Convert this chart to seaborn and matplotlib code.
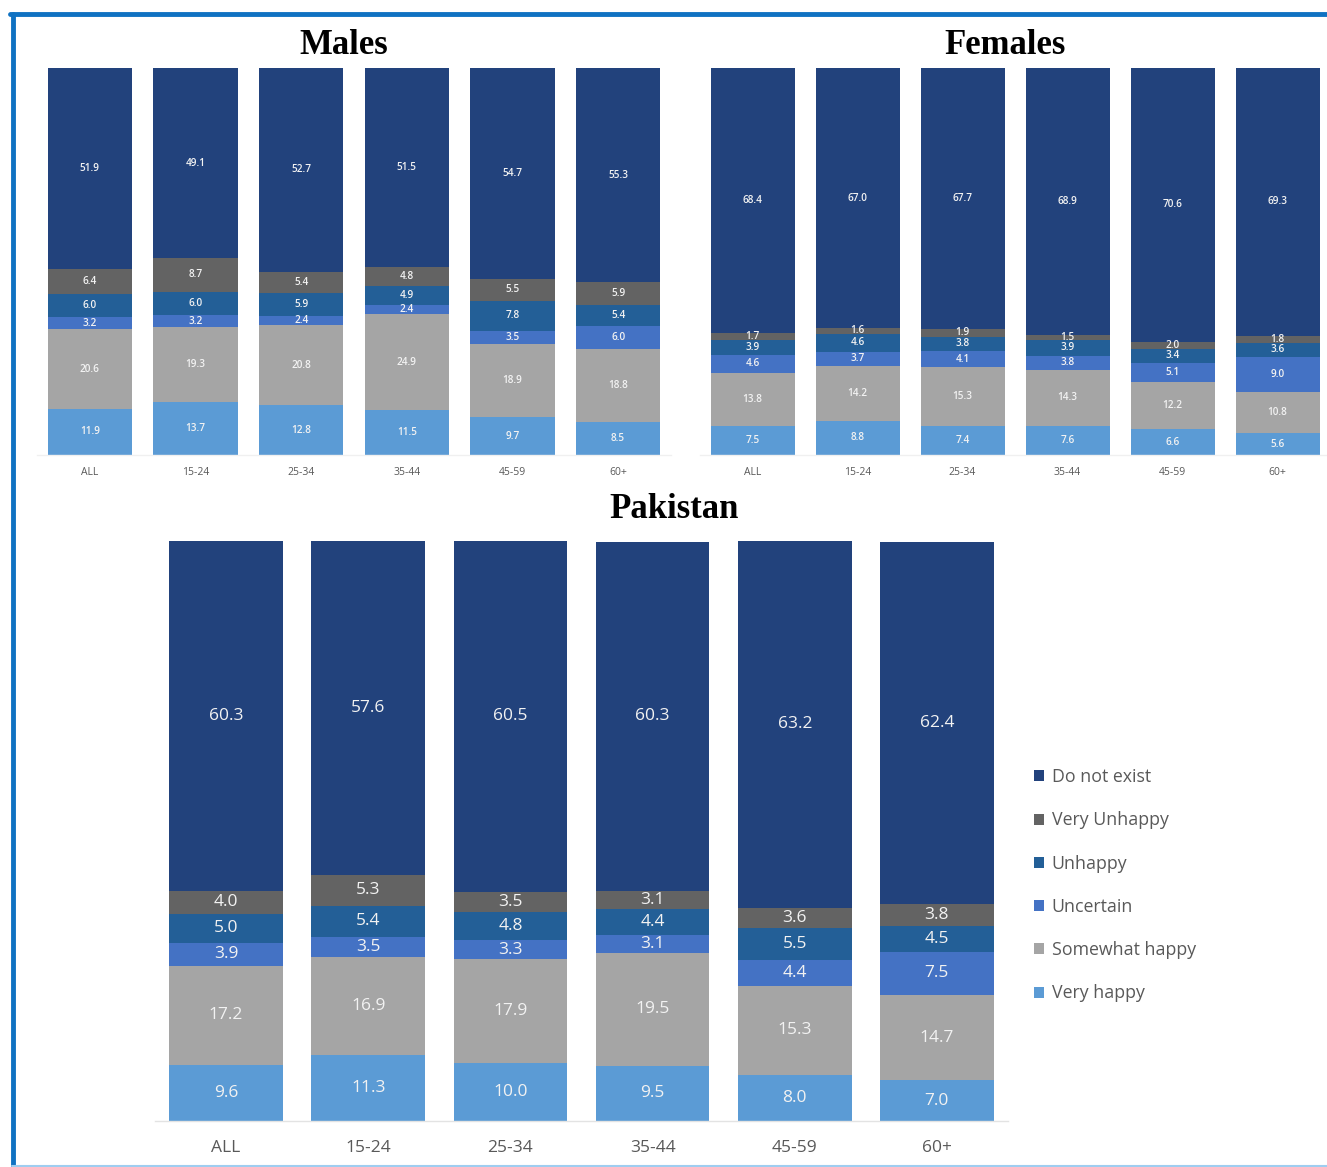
import numpy as np
import pandas as pd
import matplotlib
matplotlib.use("Agg")
import matplotlib.pyplot as plt
from matplotlib.patches import Patch
from matplotlib.lines import Line2D
import seaborn as sns

# ---------------- data ----------------
age_groups = ["ALL", "15-24", "25-34", "35-44", "45-59", "60+"]
categories = ["Do not exist", "Very Unhappy", "Unhappy", "Uncertain",
              "Somewhat happy", "Very happy"]

males_very_happy = [11.9, 13.7, 12.8, 11.5, 9.7, 8.5]
males_somewhat_happy = [20.6, 19.3, 20.8, 24.9, 18.9, 18.8]
males_uncertain = [3.2, 3.2, 2.4, 2.4, 3.5, 6.0]
males_unhappy = [6.0, 6.0, 5.9, 4.9, 7.8, 5.4]
males_very_unhappy = [6.4, 8.7, 5.4, 4.8, 5.5, 5.9]
males_do_not_exist = [51.9, 49.1, 52.7, 51.5, 54.7, 55.3]

females_very_happy = [7.5, 8.8, 7.4, 7.6, 6.6, 5.6]
females_somewhat_happy = [13.8, 14.2, 15.3, 14.3, 12.2, 10.8]
females_uncertain = [4.6, 3.7, 4.1, 3.8, 5.1, 9.0]
females_unhappy = [3.9, 4.6, 3.8, 3.9, 3.4, 3.6]
females_very_unhappy = [1.7, 1.6, 1.9, 1.5, 2.0, 1.8]
females_do_not_exist = [68.4, 67.0, 67.7, 68.9, 70.6, 69.3]

pak_very_happy = [9.6, 11.3, 10.0, 9.5, 8.0, 7.0]
pak_somewhat_happy = [17.2, 16.9, 17.9, 19.5, 15.3, 14.7]
pak_uncertain = [3.9, 3.5, 3.3, 3.1, 4.4, 7.5]
pak_unhappy = [5.0, 5.4, 4.8, 4.4, 5.5, 4.5]
pak_very_unhappy = [4.0, 5.3, 3.5, 3.1, 3.6, 3.8]
pak_do_not_exist = [60.3, 57.6, 60.5, 60.3, 63.2, 62.4]

palette = {
    "Do not exist": "#22427c",
    "Very Unhappy": "#636363",
    "Unhappy": "#235f97",
    "Uncertain": "#4472c4",
    "Somewhat happy": "#a5a5a5",
    "Very happy": "#5b9bd5",
}


def make_frame(vh, sh, unc, unh, vu, dne):
    series = {
        "Very happy": vh, "Somewhat happy": sh, "Uncertain": unc,
        "Unhappy": unh, "Very Unhappy": vu, "Do not exist": dne,
    }
    rows = []
    for cat, vals in series.items():
        for i, v in enumerate(vals):
            rows.append({"pos": i, "age": age_groups[i], "category": cat, "value": v})
    return pd.DataFrame(rows)


males = make_frame(males_very_happy, males_somewhat_happy, males_uncertain,
                   males_unhappy, males_very_unhappy, males_do_not_exist)
females = make_frame(females_very_happy, females_somewhat_happy, females_uncertain,
                     females_unhappy, females_very_unhappy, females_do_not_exist)
pakistan = make_frame(pak_very_happy, pak_somewhat_happy, pak_uncertain,
                      pak_unhappy, pak_very_unhappy, pak_do_not_exist)

sns.set_theme(style="white")
plt.rcParams["font.family"] = ["Open Sans", "DejaVu Sans"]

W, H = 1327, 1167
fig = plt.figure(figsize=(W / 100, H / 100), dpi=100)


def px_axes(left, right, top, bottom):
    return fig.add_axes([left / W, 1 - bottom / H, (right - left) / W, (bottom - top) / H])


def draw_panel(ax, df, label_size, label_weight, tick_size, tick_pad, base_color):
    sns.histplot(data=df, x="pos", weights="value", hue="category",
                 hue_order=categories, multiple="stack", discrete=True,
                 shrink=0.8, palette=palette, alpha=1, linewidth=0,
                 legend=False, ax=ax)
    ax.set_xlim(-0.5, 5.5)
    ax.set_ylim(0, 100)
    ax.set_xticks(range(len(age_groups)))
    ax.set_xticklabels(age_groups, fontsize=tick_size, color="#595959")
    ax.tick_params(axis="x", length=0, pad=tick_pad)
    ax.set_yticks([])
    ax.set_xlabel("")
    ax.set_ylabel("")
    for s in ["top", "left", "right"]:
        ax.spines[s].set_visible(False)
    ax.spines["bottom"].set_color(base_color)
    ax.spines["bottom"].set_linewidth(1)
    ax.patch.set_alpha(0)
    # value labels
    stack_order = categories[::-1]
    for i in range(len(age_groups)):
        base = 0.0
        for cat in stack_order:
            v = df[(df["pos"] == i) & (df["category"] == cat)]["value"].iloc[0]
            ax.text(i, base + v / 2, f"{v:.1f}", ha="center", va="center",
                    fontsize=label_size, fontweight=label_weight, color="#f2f2f2")
            base += v


ax_m = px_axes(37, 671, 68, 455)
draw_panel(ax_m, males, 7.2, "semibold", 7.5, 8.5, "#f0f0f0")
ax_f = px_axes(700, 1330, 68, 455)
draw_panel(ax_f, females, 7.2, "semibold", 7.5, 8.5, "#f0f0f0")
ax_p = px_axes(155, 1008, 541, 1121)
draw_panel(ax_p, pakistan, 12.5, "normal", 12.5, 13.5, "#e3e3e3")

# titles
title_kw = dict(ha="center", va="center", fontsize=25, fontweight="bold",
                family="Liberation Serif", color="black")
fig.text(344 / W, 1 - 45 / H, "Males", **title_kw)
fig.text(1005 / W, 1 - 45 / H, "Females", **title_kw)
fig.text(674 / W, 1 - 510 / H, "Pakistan", **title_kw)

# legend
handles = [Patch(facecolor=palette[c], edgecolor="none", label=c) for c in categories]
leg = fig.legend(handles=handles, loc="upper left",
                 bbox_to_anchor=(1027 / W, 1 - 761 / H), frameon=False,
                 fontsize=12.8, handlelength=0.58, handleheight=0.58,
                 handletextpad=0.4, labelspacing=1.42, borderaxespad=0)
for t in leg.get_texts():
    t.set_color("#595959")

# frame border
fig.add_artist(Line2D([12.5 / W, 12.5 / W], [1 - 14 / H, 0], color="#1072c2",
                      linewidth=3.5, transform=fig.transFigure))
fig.add_artist(Line2D([10 / W, 1], [1 - 14 / H, 1 - 14 / H], color="#1072c2",
                      linewidth=3.5, transform=fig.transFigure))
fig.add_artist(Line2D([12 / W, 1], [1 - 1166 / H, 1 - 1166 / H], color="#9fcdf0",
                      linewidth=1.5, transform=fig.transFigure))

fig.savefig("out.png", dpi=100)
